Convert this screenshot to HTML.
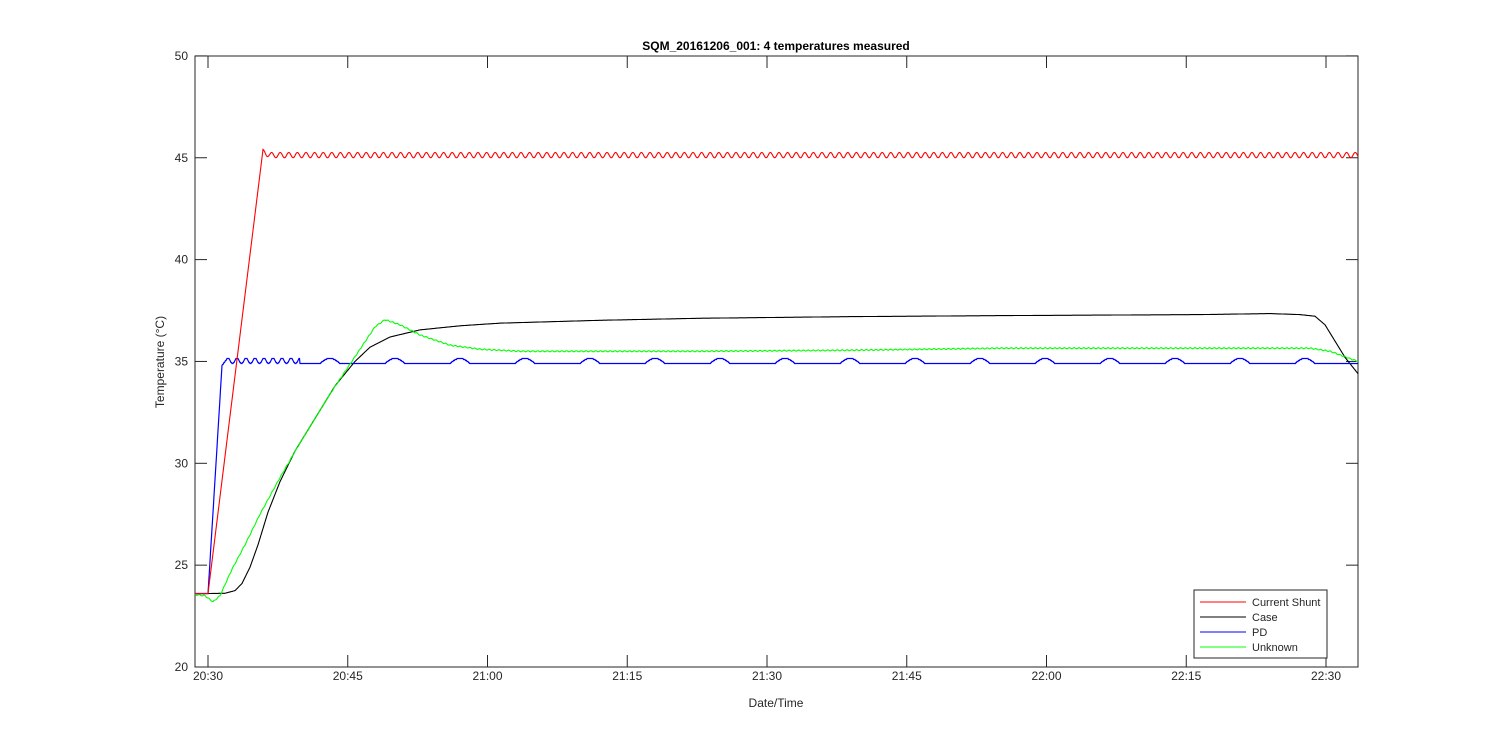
<!DOCTYPE html>
<html><head><meta charset="utf-8"><style>
body{margin:0;background:#fff;}
svg{display:block;font-family:"Liberation Sans",sans-serif;}
</style></head><body>
<svg id="s" width="1500" height="750" xmlns="http://www.w3.org/2000/svg">
<rect x="195" y="56" width="1163" height="611" fill="#fff" stroke="#262626" stroke-width="1"/>
<g id="ticks" stroke="#262626" stroke-width="1"></g>
<g id="lab" font-size="12" fill="#262626"></g>
<g id="lines" fill="none" stroke-width="1.1"></g>
<g id="blue" fill="none" stroke-width="1.2"></g>
<g id="top" fill="none" stroke-width="1.1"></g>
<text x="776" y="50" text-anchor="middle" font-size="12" font-weight="bold" fill="#000">SQM_20161206_001: 4 temperatures measured</text>
<text x="776" y="707" text-anchor="middle" font-size="12" fill="#262626">Date/Time</text>
<text transform="translate(164,362) rotate(-90)" text-anchor="middle" font-size="12" fill="#262626">Temperature (°C)</text>
<rect x="1194" y="590" width="133" height="68" fill="#fff" stroke="#262626"/>
<g font-size="11" fill="#262626">
<line x1="1200" y1="602" x2="1246" y2="602" stroke="#f00"/><text x="1252" y="606">Current Shunt</text>
<line x1="1200" y1="617" x2="1246" y2="617" stroke="#000"/><text x="1252" y="621">Case</text>
<line x1="1200" y1="632" x2="1246" y2="632" stroke="#00f"/><text x="1252" y="636">PD</text>
<line x1="1200" y1="647" x2="1246" y2="647" stroke="#0f0"/><text x="1252" y="651">Unknown</text>
</g>
</svg>
<script>
const NS="http://www.w3.org/2000/svg";
const Y=t=>667-(t-20)*20.37;
const tk=document.getElementById('ticks'),lb=document.getElementById('lab');
function el(p,tag,a,txt){const e=document.createElementNS(NS,tag);for(const k in a)e.setAttribute(k,a[k]);if(txt)e.textContent=txt;p.appendChild(e);}
for(let v=20;v<=50;v+=5){const y=Y(v);el(tk,'line',{x1:195,y1:y,x2:207,y2:y});el(tk,'line',{x1:1358,y1:y,x2:1346,y2:y});el(lb,'text',{x:188,y:y+4,'text-anchor':'end'},String(v));}
const labs=["20:30","20:45","21:00","21:15","21:30","21:45","22:00","22:15","22:30"];
labs.forEach((l,i)=>{const x=208+i*139.75;el(tk,'line',{x1:x,y1:667,x2:x,y2:655});el(tk,'line',{x1:x,y1:56,x2:x,y2:68});el(lb,'text',{x:x,y:680,'text-anchor':'middle'},l);});
function interp(pts,x){if(x<=pts[0][0])return pts[0][1];for(let i=1;i<pts.length;i++){if(x<=pts[i][0]){const a=pts[i-1],b=pts[i];const t=(x-a[0])/(b[0]-a[0]);return a[1]+(b[1]-a[1])*t;}}return pts[pts.length-1][1];}
function line(g,col,f,snap){let d=[];for(let x=195;x<=1358;x+=0.5){let y=Y(f(x));if(snap)y=Math.floor(y)+0.5;d.push(x.toFixed(1)+","+y.toFixed(1));}el(document.getElementById(g),'polyline',{points:d.join(" "),stroke:col});}
const blk=[[195,23.6],[225,23.62],[235,23.75],[242,24.1],[250,24.9],[258,26.0],[268,27.6],[280,29.1],[295,30.6],[315,32.2],[335,33.8],[355,35.0],[370,35.7],[390,36.2],[420,36.55],[460,36.75],[500,36.88],[600,37.02],[700,37.12],[850,37.2],[1000,37.25],[1200,37.3],[1270,37.35],[1300,37.3],[1315,37.22],[1325,36.8],[1335,36.0],[1345,35.2],[1358,34.4]];
const grn=[[195,23.55],[205,23.5],[213,23.2],[220,23.5],[232,24.8],[245,26],[260,27.5],[280,29.3],[300,31],[330,33.4],[360,35.6],[375,36.7],[385,37.05],[400,36.8],[420,36.3],[450,35.8],[480,35.6],[520,35.5],[700,35.5],[850,35.55],[1000,35.65],[1310,35.65],[1330,35.5],[1358,35.0]];
line('lines','#000000',x=>interp(blk,x));
line('blue','#0000ff',x=>{if(x<208)return 23.6;if(x<222)return 23.6+(34.8-23.6)*(x-208)/14;if(x<228)return 34.8+0.4*(x-222)/6;if(x<300)return 35.03+0.13*Math.cos((x-228)*2*Math.PI/9);
let b=34.9;const ph=((x-300)%65);b+= (ph>20&&ph<40)?0.25*Math.sin((ph-20)/20*Math.PI):0;return b;},true);
line('top','#00ff00',x=>interp(grn,x)+0.025*Math.sin(x*1.3));
line('top','#ff0000',x=>{if(x<208)return 23.6;if(x<263)return 23.6+(45.4-23.6)*(x-208)/55;return 45.13+0.13*Math.cos((x-263)*2*Math.PI/8.6)+(x<270?0.15*(270-x)/7:0);});
</script>
</body></html>
